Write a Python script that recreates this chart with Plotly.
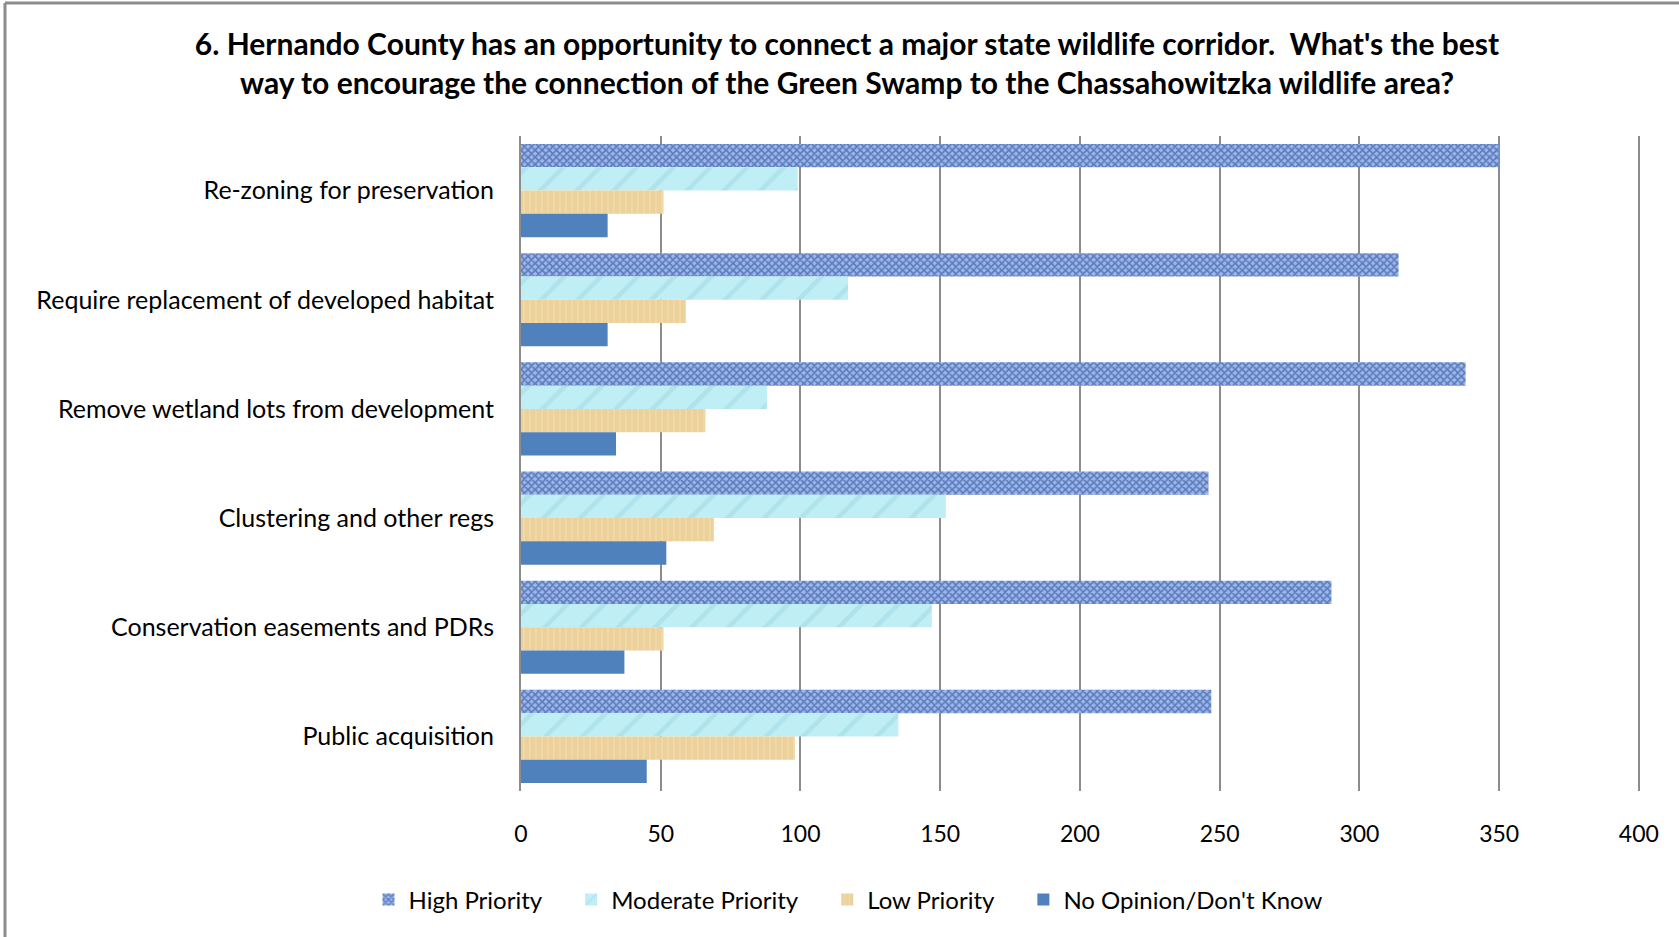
import plotly.graph_objects as go

# Survey responses per strategy (counts)
strategies = [
    "Re-zoning for preservation",
    "Require replacement of developed habitat",
    "Remove wetland lots from development",
    "Clustering and other regs",
    "Conservation easements and PDRs",
    "Public acquisition",
]
high_priority = [350, 314, 338, 246, 290, 247]
moderate_priority = [99, 117, 88, 152, 147, 135]
low_priority = [51, 59, 66, 69, 51, 98]
no_opinion = [31, 31, 34, 52, 37, 45]

x_ticks = [0, 50, 100, 150, 200, 250, 300, 350, 400]

title_text = ("6. Hernando County has an opportunity to connect a major state wildlife corridor.  What's the best"
              "<br>way to encourage the connection of the Green Swamp to the Chassahowitzka wildlife area?")

FONT = "Lato"
GRID = "#8C8C8C"
W, H = 1679, 937
L, R, T, B = 521, 39, 136, 146
PW, PH = W - L - R, H - T - B

pad = "\u00a0" * 4
series = [
    ("High Priority" + pad, high_priority,
     dict(color="#7F9FE2", pattern=dict(shape="x", fgcolor="#22407F", bgcolor="#9AB7EF", size=5, solidity=0.55))),
    ("Moderate Priority" + pad, moderate_priority,
     dict(color="#BDEDF4", pattern=dict(shape="/", fgcolor="#A0D8E3", bgcolor="#BFEEF5", size=26, solidity=0.18))),
    ("Low Priority" + pad, low_priority,
     dict(color="#EED49E", pattern=dict(shape="|", fgcolor="#F3DFB6", bgcolor="#ECD29A", size=6, solidity=0.3))),
    ("No Opinion/Don't Know", no_opinion,
     dict(color="#4F81BD")),
]

fig = go.Figure()
for name, vals, marker in series:
    fig.add_trace(go.Bar(
        name=name, x=vals, y=strategies, orientation="h",
        marker=dict(line=dict(width=0), **marker),
    ))


def px_to_paper_x(px):
    return (px - L) / PW


def px_to_paper_y(py):
    return (H - B - py) / PH


fig.update_layout(
    width=W, height=H,
    margin=dict(l=L, r=R, t=T, b=B),
    paper_bgcolor="white", plot_bgcolor="white",
    barmode="group", bargap=0.147, bargroupgap=0,
    title=dict(text=title_text, x=847 / W, xref="container", xanchor="center",
               y=0.941, yanchor="top",
               font=dict(family=FONT, size=30, color="black", weight="bold")),
    font=dict(family=FONT, size=24, color="black"),
    xaxis=dict(range=[0, 400.4], tickvals=x_ticks, showgrid=True, gridcolor=GRID,
               gridwidth=2, ticks="", zeroline=False, showline=False,
               tickfont=dict(size=23), ticklabelstandoff=27),
    yaxis=dict(autorange="reversed", showline=True, linecolor=GRID, linewidth=2,
               ticks="", showgrid=False, tickfont=dict(size=25), ticklabelstandoff=20),
    legend=dict(orientation="h", x=848 / W, xanchor="center", xref="container",
                y=1 - 900 / H, yanchor="middle", yref="container",
                font=dict(size=24), itemwidth=30, itemclick=False),
    shapes=[dict(type="line", xref="paper", yref="paper",
                 x0=px_to_paper_x(5), x1=px_to_paper_x(W + 5),
                 y0=px_to_paper_y(3), y1=px_to_paper_y(3),
                 line=dict(color=GRID, width=3)),
            dict(type="line", xref="paper", yref="paper",
                 x0=px_to_paper_x(5), x1=px_to_paper_x(5),
                 y0=px_to_paper_y(3), y1=px_to_paper_y(H + 5),
                 line=dict(color=GRID, width=3))],
)

fig.write_html("out.html")
